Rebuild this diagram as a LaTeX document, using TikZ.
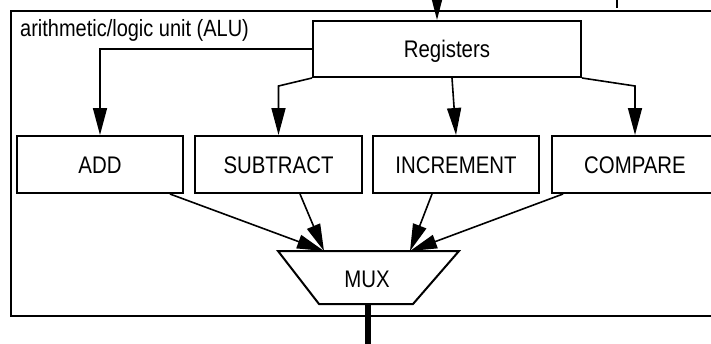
\documentclass[tikz,border=0pt]{standalone}
\usepackage{fontspec}
\setmainfont{Liberation Sans}
\newfontfamily\boxfont{Liberation Sans}[FakeStretch=0.85]
\usetikzlibrary{arrows.meta,calc}
\begin{document}
\begin{tikzpicture}[x=1pt,y=-1pt,
  unit/.style={draw, line width=2pt, minimum width=166pt, minimum height=57pt,
    inner sep=0pt, font=\boxfont\fontsize{24}{24}\selectfont,
    text height=17pt, text depth=0pt},
  feed/.style={line width=1.6pt, -{Triangle[length=27pt,width=14pt]}},
  bus/.style={line width=6pt},
]
\useasboundingbox (0,0) rectangle (711,343);

% ALU enclosure (runs off the right edge)
\draw[line width=2pt] (11,11) rectangle (740,316);
\node[anchor=base west, inner sep=0pt, font=\boxfont\fontsize{23.5}{24}\selectfont]
  (title) at (20,36) {arithmetic/logic unit (ALU)};

% functional blocks
\node[unit, minimum width=268pt, minimum height=56pt] (reg) at (447,49) {Registers};
\node[unit] (add) at (100,164.5) {ADD};
\node[unit, minimum width=167pt] (sub) at (278.5,164.5) {SUBTRACT};
\node[unit] (inc) at (456,164.5) {INCREMENT};
\node[unit] (cmp) at (635,164.5) {COMPARE};

% multiplexer
\coordinate (mTL) at (278,251);
\coordinate (mTR) at (459,251);
\coordinate (mBR) at (413,304);
\coordinate (mBL) at (319,304);
\draw[line width=2pt, line join=miter] (mTL) -- (mTR) -- (mBR) -- (mBL) -- cycle;
\node[inner sep=0pt, font=\boxfont\fontsize{24}{24}\selectfont,
  text height=17pt, text depth=0pt] (mux) at (367,279) {MUX};

% incoming and outgoing buses
\coordinate (busin) at (437,-12);
\draw[line width=1.6pt, -{Triangle[length=30pt,width=15pt]}] (busin) -- (reg.north -| busin);
\coordinate (tickTop) at (617,-2);
\coordinate (tickEnd) at (617,8);
\draw[line width=1.4pt] (tickTop) -- (tickEnd);
\coordinate (muxout) at (368,304);
\coordinate (aluout) at (368,350);
\draw[bus] (muxout) -- (aluout);

% register outputs to the units
\coordinate (lvl) at (0,86);
\draw[feed] (reg.west) -| (add.north);
\draw[feed] (reg.south west) -- (sub.north |- lvl) -- (sub.north);
\draw[feed] ([xshift=5pt]reg.south) -- (inc.north);
\draw[feed] (reg.south east) -- (cmp.north |- lvl) -- (cmp.north);

% unit results into the multiplexer
\coordinate (inL) at (324,251);
\coordinate (inR) at (410,251);
\draw[feed] ([xshift=70pt]add.south) -- (inL);
\draw[feed] ([xshift=21.5pt]sub.south) -- (inL);
\draw[feed] ([xshift=-24pt]inc.south) -- (inR);
\draw[feed] ([xshift=-72pt]cmp.south) -- (inR);
\end{tikzpicture}
\end{document}
